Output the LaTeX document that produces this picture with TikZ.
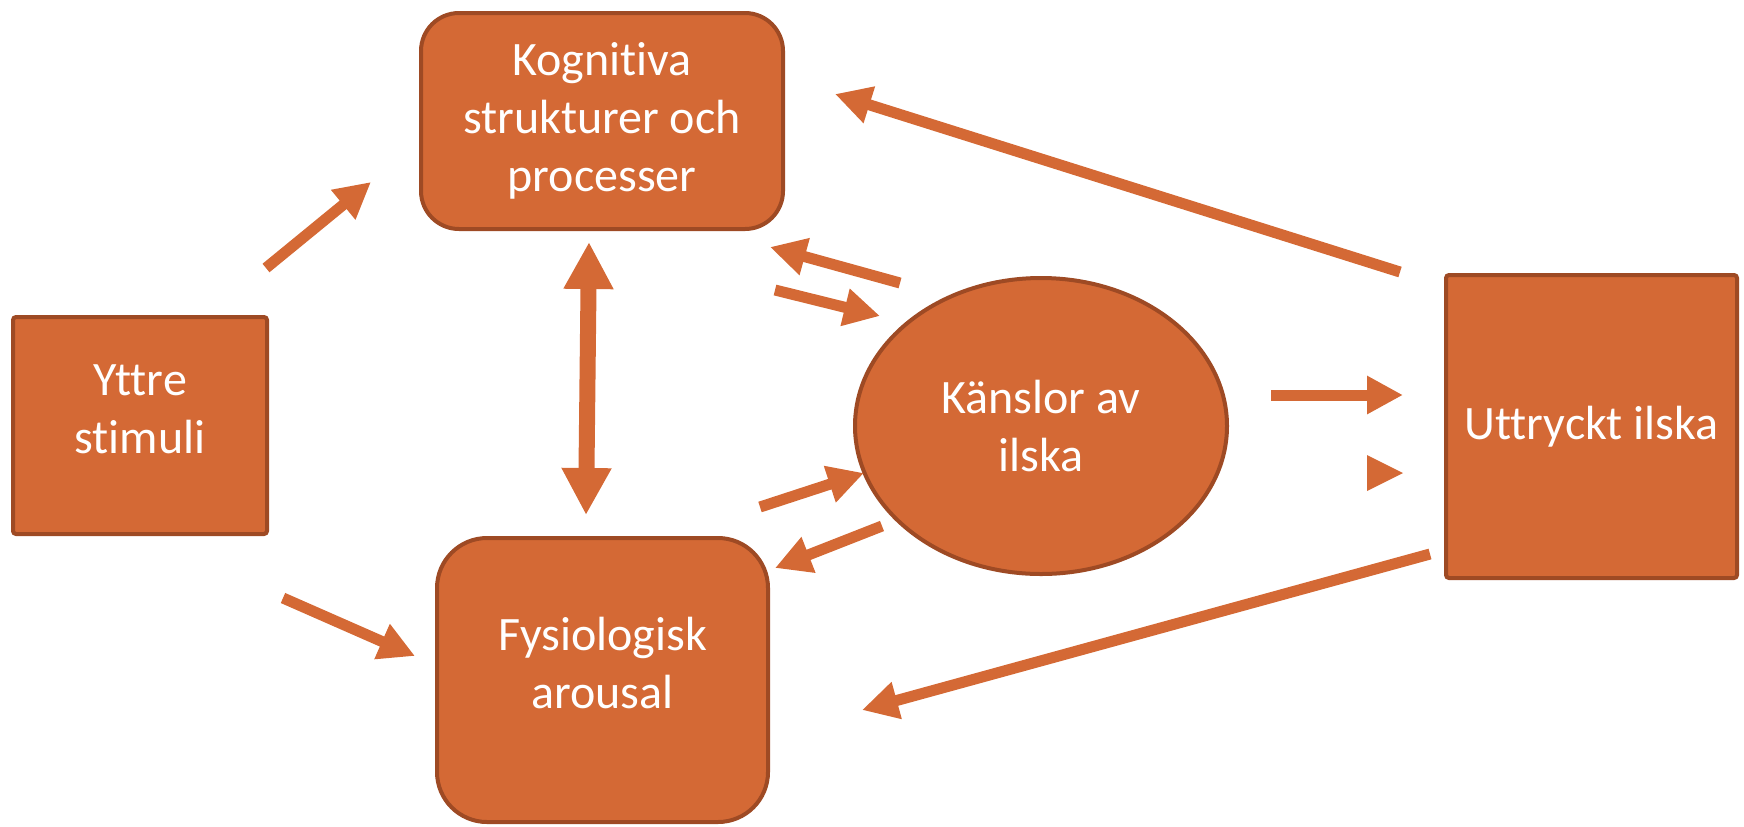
\documentclass[tikz,border=0pt]{standalone}
\usepackage{fontspec}
\setmainfont{Carlito}[Ligatures={NoCommon}]
\usetikzlibrary{arrows.meta, shapes.geometric}
\definecolor{boxorange}{HTML}{D46935}
\definecolor{edgebrown}{HTML}{9E4A24}

\begin{document}
\begin{tikzpicture}[x=0.5pt, y=-0.5pt]
    % Styles
    \tikzstyle{block} = [draw=edgebrown, fill=boxorange, line width=2pt, text=white, align=center, inner sep=0pt, font=\fontsize{24}{29}\selectfont]
    \tikzstyle{lifted} = [text height=50pt, text depth=22pt]
    \tikzstyle{arrow} = [draw=boxorange, line width=5.5pt, -{Triangle[length=18pt, width=18pt]}]
    \tikzstyle{bigarrow} = [draw=boxorange, line width=8pt, {Triangle[length=23.5pt, width=23.5pt]}-{Triangle[length=23.5pt, width=23.5pt]}]

    \useasboundingbox (0,0) rectangle (1744,826);

    % Boxes
    \node[block, lifted, minimum width=127pt, minimum height=108.5pt, rounded corners=1.5pt] (yttre) at (140,425.5) {Yttre\\stimuli};
    \node[block, minimum width=181pt, minimum height=108pt, rounded corners=19pt] (kogn) at (602,121) {Kognitiva\\strukturer och\\processer};
    \node[block, lifted, minimum width=165.5pt, minimum height=142pt, rounded corners=25pt] (fysio) at (602.5,680) {Fysiologisk\\arousal};
    \node[block, ellipse, minimum width=186pt, minimum height=148pt] (kansla) at (1041,426) {Känslor av\\ilska};
    \node[block, minimum width=145.5pt, minimum height=151.5pt, rounded corners=1.5pt] (uttryck) at (1591.5,426.5) {Uttryckt ilska};

    % Arrow ends
    \coordinate (y-k1) at (266,268);
    \coordinate (y-k2) at (371,182);
    \coordinate (y-f1) at (283,598);
    \coordinate (y-f2) at (415,656);
    \coordinate (kf-top) at (589,242);
    \coordinate (kf-bot) at (586,515);
    \coordinate (a-k1) at (900,283);
    \coordinate (a-k2) at (770,247);
    \coordinate (k-a1) at (775,290);
    \coordinate (k-a2) at (880,316);
    \coordinate (f-a1) at (760,507);
    \coordinate (f-a2) at (864,473);
    \coordinate (a-f1) at (882,526);
    \coordinate (a-f2) at (775,568);
    \coordinate (u-k1) at (1400,272);
    \coordinate (u-k2) at (835,94);
    \coordinate (a-u1) at (1271,395);
    \coordinate (a-u2) at (1403,395);
    \coordinate (u-f1) at (1430,554);
    \coordinate (u-f2) at (862,710);

    % Arrows
    \draw[arrow] (y-k1) -- (y-k2);
    \draw[arrow] (y-f1) -- (y-f2);
    \draw[bigarrow] (kf-top) -- (kf-bot);
    \draw[arrow] (a-k1) -- (a-k2);
    \draw[arrow] (k-a1) -- (k-a2);
    \draw[arrow] (f-a1) -- (f-a2);
    \draw[arrow] (a-f1) -- (a-f2);
    \draw[arrow] (u-k1) -- (u-k2);
    \draw[arrow] (a-u1) -- (a-u2);
    \draw[arrow] (u-f1) -- (u-f2);

    % Loose arrow head
    \fill[boxorange] (1367,455) -- (1403,473) -- (1367,491) -- cycle;
\end{tikzpicture}
\end{document}
